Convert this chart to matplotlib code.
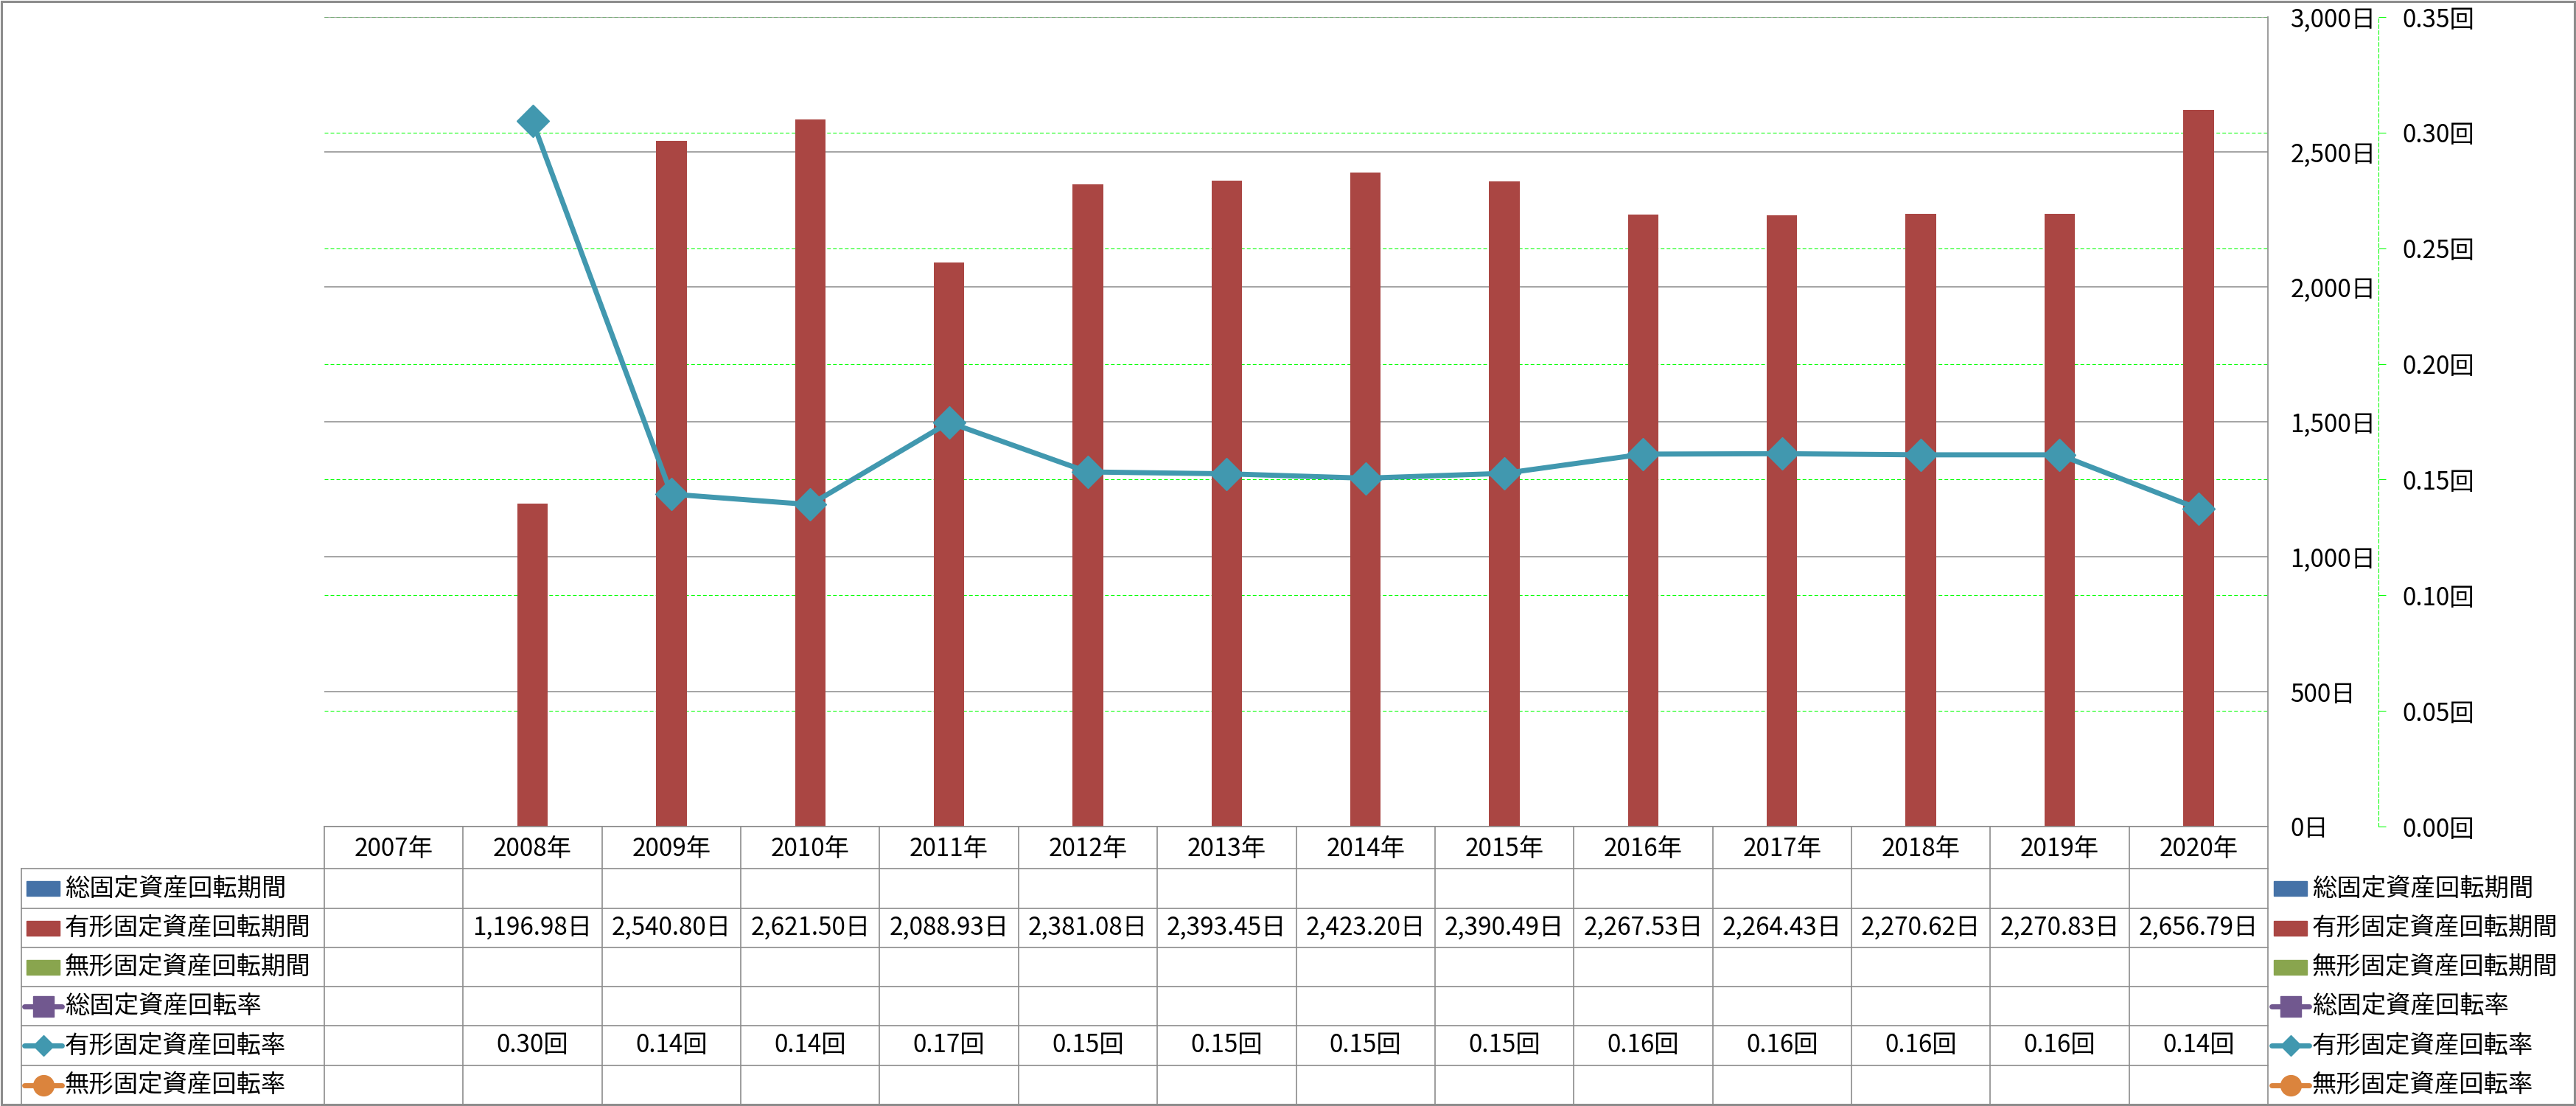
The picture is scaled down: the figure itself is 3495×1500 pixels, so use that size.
import numpy as np
import matplotlib
matplotlib.use('Agg')
import matplotlib.pyplot as plt
from matplotlib.patches import Rectangle
from matplotlib.lines import Line2D
from matplotlib.transforms import blended_transform_factory

plt.rcParams['font.family'] = ['Noto Sans CJK JP', 'DejaVu Sans']

# data
years = ['2007年', '2008年', '2009年', '2010年', '2011年', '2012年', '2013年',
         '2014年', '2015年', '2016年', '2017年', '2018年', '2019年', '2020年']
tangible_days = [np.nan, 1196.98, 2540.80, 2621.50, 2088.93, 2381.08, 2393.45,
                 2423.20, 2390.49, 2267.53, 2264.43, 2270.62, 2270.83, 2656.79]
tangible_rate = [np.nan, 0.3049, 0.1437, 0.1392, 0.1747, 0.1533, 0.1525,
                 0.1506, 0.1527, 0.1610, 0.1612, 0.1607, 0.1607, 0.1374]
day_ticks = [0, 500, 1000, 1500, 2000, 2500, 3000]
rate_ticks = [0.00, 0.05, 0.10, 0.15, 0.20, 0.25, 0.30, 0.35]

series_names = ['総固定資産回転期間', '有形固定資産回転期間', '無形固定資産回転期間',
                '総固定資産回転率', '有形固定資産回転率', '無形固定資産回転率']
series_colors = ['#4572A7', '#AA4643', '#89A54E', '#71588F', '#4198AF', '#DB843D']
series_markers = [None, None, None, 's', 'D', 'o']

W, H = 3495, 1500
fig = plt.figure(figsize=(W / 100, H / 100), dpi=100)
pos = [440 / W, 1 - 1121 / H, (3077 - 440) / W, (1121 - 23) / H]
x = np.arange(len(years))
GRAY = '#8c8c8c'
FS = 24

# rate axis (green dashed grid + outer axis)
axr = fig.add_axes(pos, zorder=1)
axr.patch.set_visible(False)
axr.set_xlim(-0.5, len(years) - 0.5)
axr.set_ylim(0, 0.35)
axr.yaxis.tick_right()
axr.set_yticks(rate_ticks)
axr.set_yticklabels([f'{v:.2f}回' for v in rate_ticks])
axr.set_xticks([])
for s in ['left', 'top', 'bottom']:
    axr.spines[s].set_visible(False)
axr.spines['right'].set_position(('outward', 108))
axr.spines['right'].set_color('#00FF00')
axr.spines['right'].set_linestyle((0, (4.8, 2.9)))
axr.spines['right'].set_linewidth(0.75)
axr.tick_params(axis='y', direction='out', length=7.2, width=0.75,
                color='#00FF00', pad=16, labelsize=FS)
axr.grid(axis='y', color='#00FF00', linestyle=(0, (4.8, 2.9)), linewidth=0.75)

# bars (days)
ax = fig.add_axes(pos, zorder=2)
ax.patch.set_visible(False)
ax.bar(x, tangible_days, width=0.22, color=series_colors[1], zorder=2)
ax.set_xlim(-0.5, len(years) - 0.5)
ax.set_ylim(0, 3000)
ax.yaxis.tick_right()
ax.set_yticks(day_ticks)
ax.set_yticklabels([f'{v:,}日' for v in day_ticks])
ax.tick_params(axis='y', length=0, pad=22, labelsize=FS)
ax.set_xticks([])
for s in ax.spines.values():
    s.set_visible(False)
ax.set_axisbelow(True)
ax.grid(axis='y', color=GRAY, linewidth=1.1)

# line (rate)
axl = fig.add_axes(pos, zorder=3)
axl.patch.set_visible(False)
axl.plot(x, tangible_rate, color=series_colors[4], linewidth=5, marker='D',
         markersize=22, solid_joinstyle='round')
axl.set_xlim(-0.5, len(years) - 0.5)
axl.set_ylim(0, 0.35)
axl.axis('off')

# overlay for data table, legend and frame
over = fig.add_axes([0, 0, 1, 1], zorder=5)
over.set_xlim(0, W)
over.set_ylim(H, 0)
over.axis('off')
tr = blended_transform_factory(ax.transData, over.transData)

row_edges = [1178, 1232, 1285, 1338, 1391, 1445, 1498]
lw_t = 1.2
# header row and column lines
over.plot([-0.5, len(years) - 0.5], [1121, 1121], color=GRAY, lw=lw_t, transform=tr)
for i in range(len(years) + 1):
    top = 23 if i == len(years) else 1121
    over.plot([i - 0.5, i - 0.5], [top, 1498], color=GRAY, lw=lw_t, transform=tr)
for y in row_edges[:-1]:
    over.plot([29, 3077], [y, y], color=GRAY, lw=lw_t)
over.plot([29, 29], [1178, 1498], color=GRAY, lw=lw_t)

for i, lab in enumerate(years):
    over.text(i, 1151, lab, ha='center', va='center', fontsize=FS, transform=tr)

table_rows = {1: [f'{v:,.2f}日' if not np.isnan(v) else '' for v in tangible_days],
              4: [f'{v:.2f}回' if not np.isnan(v) else '' for v in tangible_rate]}


def legend_entry(xs, yc, k):
    c = series_colors[k]
    if series_markers[k] is None:
        over.add_patch(Rectangle((xs, yc - 10), 45, 20, color=c))
    else:
        over.add_line(Line2D([xs - 3, xs + 48], [yc, yc], color=c, lw=5,
                             solid_capstyle='round'))
        ms = 14 if series_markers[k] == 'D' else 20
        over.add_line(Line2D([xs + 22.5], [yc], marker=series_markers[k],
                             markersize=ms, color=c, lw=0))
    over.text(xs + 52, yc, series_names[k], ha='left', va='center', fontsize=FS)


for k in range(6):
    yc = (row_edges[k] + row_edges[k + 1]) / 2
    legend_entry(36, yc, k)
    legend_entry(3085, yc, k)
    if k in table_rows:
        for i, t in enumerate(table_rows[k]):
            if t:
                over.text(i, yc, t, ha='center', va='center', fontsize=FS,
                          transform=tr)

over.add_patch(Rectangle((1.5, 1.5), W - 4, H - 3.5, fill=False,
                         edgecolor=GRAY, lw=2.2))

fig.savefig('out.png', dpi=100)
